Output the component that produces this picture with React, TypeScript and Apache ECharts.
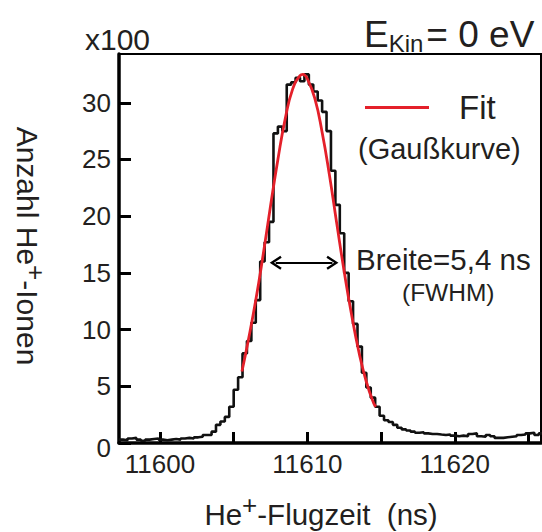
import React, { useEffect, useRef } from "react";
import * as echarts from "echarts";

// Histogram: He+ time of flight, counts in units of 100
const BIN_START = 11597.2;
const BIN_WIDTH = 0.3;
const HIST_COUNTS = [
  0.3, 0.25, 0.4, 0.45, 0.3, 0.2, 0.3, 0.35, 0.4, 0.3, 0.25, 0.3, 0.35, 0.3, 0.4, 0.45,
  0.4, 0.5, 0.55, 0.7, 0.7, 1.0, 1.6, 1.9, 2.3, 3.2, 4.7, 5.8, 7.9, 9.0,
  10.6, 12.6, 16.0, 17.7, 19.5, 27.3, 27.9, 27.5, 31.6, 31.8, 32.2, 31.9, 32.5, 31.6, 31.0, 30.2,
  29.2, 27.5, 24.0, 21.0, 18.5, 15.0, 12.5, 10.5, 8.5, 6.2, 4.9, 4.0, 3.2, 2.4,
  2.0, 1.85, 1.6, 1.35, 1.2, 1.1, 1.0, 0.9, 0.95, 0.85, 0.8, 0.8, 0.75, 0.7, 0.75, 0.65,
  0.6, 0.65, 0.6, 0.8, 0.85, 0.6, 0.55, 0.7, 0.6, 0.45, 0.45, 0.5, 0.55, 0.6, 0.7, 0.75,
  0.85, 0.9, 0.7, 0.85,
];

// Gaussian fit curve
const FIT_X = [
  11605.56, 11606.0, 11606.5, 11607.0, 11607.5, 11608.0, 11608.5, 11609.0, 11609.5, 11609.7,
  11610.0, 11610.5, 11611.0, 11611.5, 11612.0, 11612.5, 11613.0, 11613.5, 11614.0, 11614.5, 11614.65,
];
const FIT_Y = [
  6.3, 9.1, 12.6, 16.6, 20.9, 25.0, 28.6, 31.2, 32.4, 32.5,
  32.1, 30.4, 27.4, 23.6, 19.3, 15.1, 11.3, 8.0, 5.4, 3.5, 3.2,
];

// FWHM arrow (data coordinates)
const ARROW_X = [11607.85, 11611.7];
const ARROW_Y = 15.9;

const X_MIN = 11597.22;
const X_MAX = 11625.85;
const Y_MIN = 0;
const Y_MAX = 34.3;
const X_TICKS = [11600, 11605, 11610, 11615, 11620, 11625];
const X_LABELS = [11600, 11610, 11620];
const Y_TICKS = [0, 5, 10, 15, 20, 25, 30];

const FONT = "'Liberation Sans', Arial, Helvetica, sans-serif";
const TXT = "#231f20";
const RED = "#e4202a";

export default function App() {
  const ref = useRef<HTMLDivElement>(null);
  useEffect(() => {
    if (!ref.current) return;
    const chart = echarts.init(ref.current, undefined, { renderer: "svg" });
    const hist: [number, number][] = HIST_COUNTS.map((v, i) => [BIN_START + i * BIN_WIDTH, v]);
    hist.push([BIN_START + HIST_COUNTS.length * BIN_WIDTH, HIST_COUNTS[HIST_COUNTS.length - 1]]);
    const fit = FIT_X.map((x, i) => [x, FIT_Y[i]]);
    const chevron = "path://M6,0 L12,10.5 L10.3,11.8 L6,4.2 L1.7,11.8 L0,10.5 Z";

    chart.setOption({
      animation: false,
      textStyle: { fontFamily: FONT },
      grid: {
        left: 119,
        right: 1,
        top: 54,
        bottom: 89,
        show: true,
        borderColor: "#000",
        borderWidth: 2,
        backgroundColor: "transparent",
      },
      legend: {
        data: ["Fit"],
        left: 360,
        top: 86,
        icon: "rect",
        itemWidth: 64,
        itemHeight: 3,
        itemStyle: { color: RED },
        textStyle: { fontSize: 33, color: TXT, fontFamily: FONT, padding: [0, 0, 0, 25] },
      },
      xAxis: {
        type: "value",
        min: X_MIN,
        max: X_MAX,
        axisLine: { show: true, lineStyle: { color: "#000", width: 3.5 } },
        axisTick: {
          show: true,
          inside: true,
          length: 11,
          lineStyle: { color: "#000", width: 3 },
          customValues: X_TICKS,
        },
        axisLabel: {
          customValues: X_LABELS,
          fontSize: 26,
          color: TXT,
          margin: 8,
          formatter: (v: number) => String(v),
        },
        splitLine: { show: false },
      },
      yAxis: {
        type: "value",
        min: Y_MIN,
        max: Y_MAX,
        axisLine: { show: true, lineStyle: { color: "#000", width: 3.5 } },
        axisTick: {
          show: true,
          inside: true,
          length: 12,
          lineStyle: { color: "#000", width: 3 },
          customValues: Y_TICKS,
        },
        axisLabel: {
          customValues: Y_TICKS,
          fontSize: 26,
          color: TXT,
          margin: 8,
          formatter: (v: number) => (v === 0 ? "{z|0}" : String(v)),
          rich: { z: { fontSize: 26, color: TXT, padding: [10, 0, 0, 0], fontFamily: FONT } },
        },
        splitLine: { show: false },
      },
      series: [
        {
          name: "Histogramm",
          type: "line",
          step: "end",
          data: hist,
          symbol: "none",
          lineStyle: { color: "#111", width: 2.6 },
          z: 2,
        },
        {
          name: "Fit",
          type: "line",
          smooth: true,
          data: fit,
          symbol: "none",
          lineStyle: { color: RED, width: 2.8 },
          itemStyle: { color: RED },
          z: 3,
          markLine: {
            silent: true,
            symbol: [chevron, chevron],
            symbolSize: [14, 12],
            label: { show: false },
            lineStyle: { color: "#000", width: 2, type: "solid" },
            itemStyle: { color: "#000" },
            emphasis: { disabled: true },
            data: [[{ coord: [ARROW_X[0], ARROW_Y] }, { coord: [ARROW_X[1], ARROW_Y] }]],
          },
        },
      ],
      graphic: [
        {
          type: "text",
          x: 85,
          y: 39,
          style: { text: "x100", fontSize: 30, fill: TXT, fontFamily: FONT, align: "left", verticalAlign: "middle" },
        },
        {
          type: "text",
          x: 364,
          y: 34,
          style: {
            text: "{e|E}{k|Kin}{e|= 0 eV}",
            fill: TXT,
            align: "left",
            verticalAlign: "middle",
            rich: {
              e: { fontSize: 37, fill: TXT, fontFamily: FONT },
              k: { fontSize: 24, fill: TXT, fontFamily: FONT, padding: [18, 3, 0, 0] },
            },
          },
        },
        {
          type: "text",
          x: 358,
          y: 149,
          style: { text: "(Gaußkurve)", fontSize: 29, fill: TXT, fontFamily: FONT, align: "left", verticalAlign: "middle" },
        },
        {
          type: "text",
          x: 356,
          y: 259,
          style: { text: "Breite=5,4 ns", fontSize: 29.5, fill: TXT, fontFamily: FONT, align: "left", verticalAlign: "middle" },
        },
        {
          type: "text",
          x: 402,
          y: 292,
          style: { text: "(FWHM)", fontSize: 24.5, fill: TXT, fontFamily: FONT, align: "left", verticalAlign: "middle" },
        },
        {
          type: "text",
          x: 27,
          y: 246,
          rotation: -Math.PI / 2,
          style: {
            text: "{a|Anzahl He}{s|+}{a|-Ionen}",
            align: "center",
            verticalAlign: "middle",
            fill: TXT,
            rich: {
              a: { fontSize: 30, fill: TXT, fontFamily: FONT },
              s: { fontSize: 26, fill: TXT, fontFamily: FONT, padding: [0, 0, 18, 0] },
            },
          },
        },
        {
          type: "text",
          x: 321,
          y: 514,
          style: {
            text: "{a|He}{s|+}{a|-Flugzeit  (ns)}",
            align: "center",
            verticalAlign: "middle",
            fill: TXT,
            rich: {
              a: { fontSize: 29.5, fill: TXT, fontFamily: FONT },
              s: { fontSize: 26, fill: TXT, fontFamily: FONT, padding: [0, 0, 18, 0] },
            },
          },
        },
      ],
    });
    return () => chart.dispose();
  }, []);
  return (
    <div
      ref={ref}
      style={{ position: "absolute", left: 0, top: 0, width: 542, height: 532, background: "#fff" }}
    />
  );
}
